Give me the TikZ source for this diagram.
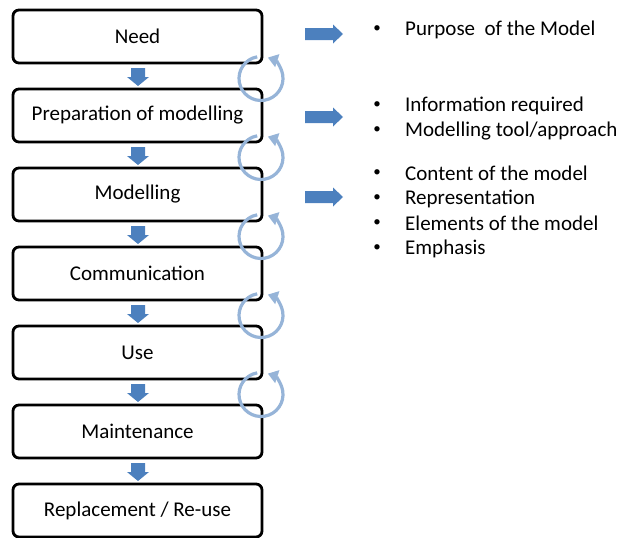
\documentclass[tikz,border=0pt]{standalone}
\usepackage{fontspec}
\setmainfont{Carlito}
\usetikzlibrary{arrows.meta}
\definecolor{arrowblue}{RGB}{76,128,190}
\definecolor{loopblue}{RGB}{150,180,216}
\newcommand{\lowtxt}[1]{\raisebox{-1.5pt}{#1}}
\tikzset{
  stage/.style={draw=black, line width=2.8pt, rounded corners=6pt, fill=white,
    minimum width=249pt, minimum height=53pt, inner sep=0pt, font=\fontsize{21}{24}\selectfont},
  bul/.style={inner sep=0pt, anchor=center, font=\fontsize{15}{18}\selectfont},
  btxt/.style={inner sep=0pt, anchor=west, font=\fontsize{21}{24}\selectfont},
  loopc/.style={draw=loopblue, line width=3.2pt, -{Triangle[length=10pt,width=13pt]}},
  downarr/.pic={\fill[arrowblue] (-7,0) -- (7,0) -- (7,9) -- (11,9) -- (0,18) -- (-11,9) -- (-7,9) -- cycle;},
  rightarr/.pic={\fill[arrowblue] (0,-6) -- (28,-6) -- (28,-9.5) -- (38,0) -- (28,9.5) -- (28,6) -- (0,6) -- cycle;}
}
\begin{document}
\begin{tikzpicture}[x=1pt,y=-1pt]
\useasboundingbox (0,0) rectangle (619,538);
% stages
\node[stage] (s1) at (137.5,36.5) {\lowtxt{Need}};
\node[stage] (s2) at (137.5,115.5) {\lowtxt{Preparation of modelling}};
\node[stage] (s3) at (137.5,194.5) {\lowtxt{Modelling}};
\node[stage] (s4) at (137.5,273.5) {\lowtxt{Communication}};
\node[stage] (s5) at (137.5,352.5) {\lowtxt{Use}};
\node[stage] (s6) at (137.5,431.5) {\lowtxt{Maintenance}};
\node[stage] (s7) at (137.5,510.5) {\lowtxt{Replacement / Re-use}};
% down arrows
\foreach \k in {0,...,5} {
  \pic at (138,68+79*\k) {downarr};
}
% loops
\foreach \k in {0,...,4} {
  \coordinate (c\k) at (261,78.5+79*\k);
  \draw[loopc] ([shift={(-100:22)}]c\k) arc[start angle=-100, end angle=-432, radius=22];
}
% right arrows
\pic at (305,34) {rightarr};
\pic at (305,117) {rightarr};
\pic at (305,197) {rightarr};
% bullets
\node[bul] (b1) at (377,29) {•};
\node[btxt] (t1) at (405,29.5) {Purpose\ \ of the Model};
\node[bul] (b2) at (377,105) {•};
\node[btxt] (t2) at (405,105.5) {Information required};
\node[bul] (b3) at (377,130.5) {•};
\node[btxt] (t3) at (405,131) {Modelling tool/approach};
\node[bul] (b4) at (377,173) {•};
\node[btxt] (t4) at (405,173.5) {Content of the model};
\node[bul] (b5) at (377,198) {•};
\node[btxt] (t5) at (405,198.5) {Representation};
\node[bul] (b6) at (377,223) {•};
\node[btxt] (t6) at (405,223.5) {Elements of the model};
\node[bul] (b7) at (377,248) {•};
\node[btxt] (t7) at (405,248.5) {Emphasis};
\end{tikzpicture}
\end{document}
